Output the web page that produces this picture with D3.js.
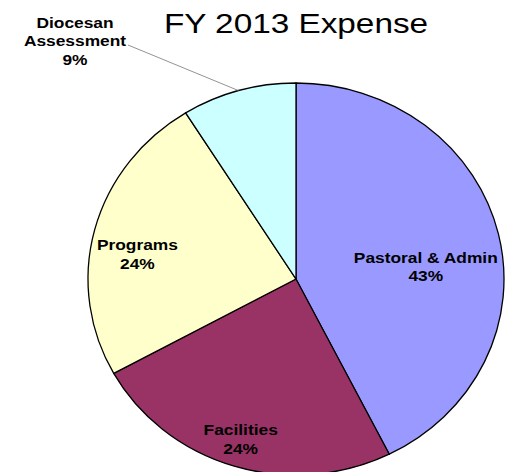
<!DOCTYPE html>
<html>
<head>
<meta charset="utf-8">
<script src="https://cdn.jsdelivr.net/npm/d3@7"></script>
<style>
  body { margin: 0; background: #fff; }
  svg { display: block; font-family: "Liberation Sans", Arial, sans-serif; }
</style>
</head>
<body>
<div id="chart"></div>
<script>
// data
const categories = ["Pastoral & Admin", "Facilities", "Programs", "Diocesan Assessment"];
const values = [42.6, 24.4, 24.1, 8.9];
const percentLabels = ["43%", "24%", "24%", "9%"];
const colors = ["#9999FF", "#993366", "#FFFFCC", "#CCFFFF"];

const width = 506, height = 472;
const cx = 296, cy = 279, rx = 208, ry = 196;
const stretch = 1.12; // text in the original is a bit wide

const svg = d3.select("#chart").append("svg")
    .attr("width", width)
    .attr("height", height);

svg.append("text")
    .attr("transform", `translate(296,33) scale(1.19,1)`)
    .attr("text-anchor", "middle")
    .attr("font-size", "28px")
    .attr("fill", "#000")
    .text("FY 2013 Expense");

const pie = d3.pie().sort(null).value(d => d);
const arcs = pie(values);
const arc = d3.arc().innerRadius(0).outerRadius(rx);

// pie is slightly squashed vertically, like the original
const g = svg.append("g")
    .attr("transform", `translate(${cx},${cy}) scale(1,${ry / rx})`);

g.selectAll("path")
    .data(arcs)
    .enter()
    .append("path")
    .attr("d", arc)
    .attr("fill", (d, i) => colors[i])
    .attr("stroke", "#000")
    .attr("stroke-width", 1.3)
    .attr("vector-effect", "non-scaling-stroke");

// label placement: angle (deg from top) and radius from centre
const labelPlace = [
    {angle: 86.7, r: 130},
    {angle: 197.5, r: 184},
    {angle: 277.5, r: 160}
];

const lines = (i) => i === 3 ? ["Diocesan", "Assessment", percentLabels[i]] : [categories[i], percentLabels[i]];

function addLabel(x, y, i) {
    const t = svg.append("text")
        .attr("transform", `translate(${x},${y}) scale(${stretch},1)`)
        .attr("text-anchor", "middle")
        .attr("font-size", "15.5px")
        .attr("font-weight", "bold")
        .attr("fill", "#000");
    lines(i).forEach((s, k) => {
        t.append("tspan")
            .attr("x", 0)
            .attr("y", k * 18.5)
            .text(s);
    });
}

labelPlace.forEach((p, i) => {
    const a = p.angle * Math.PI / 180;
    const x = cx + p.r * Math.sin(a);
    const y = cy - p.r * Math.cos(a) * ry / rx;
    addLabel(x, y - 9, i);
});

// Diocesan Assessment label sits outside with a leader line
const dioc = arcs[3];
const midA = (dioc.startAngle + dioc.endAngle) / 2;
const edgeX = cx + rx * Math.sin(midA);
const edgeY = cy - ry * Math.cos(midA);

svg.append("line")
    .attr("x1", 128)
    .attr("y1", 45)
    .attr("x2", edgeX)
    .attr("y2", edgeY)
    .attr("stroke", "#777")
    .attr("stroke-width", 0.8);

addLabel(75, 28, 3);
</script>
</body>
</html>
